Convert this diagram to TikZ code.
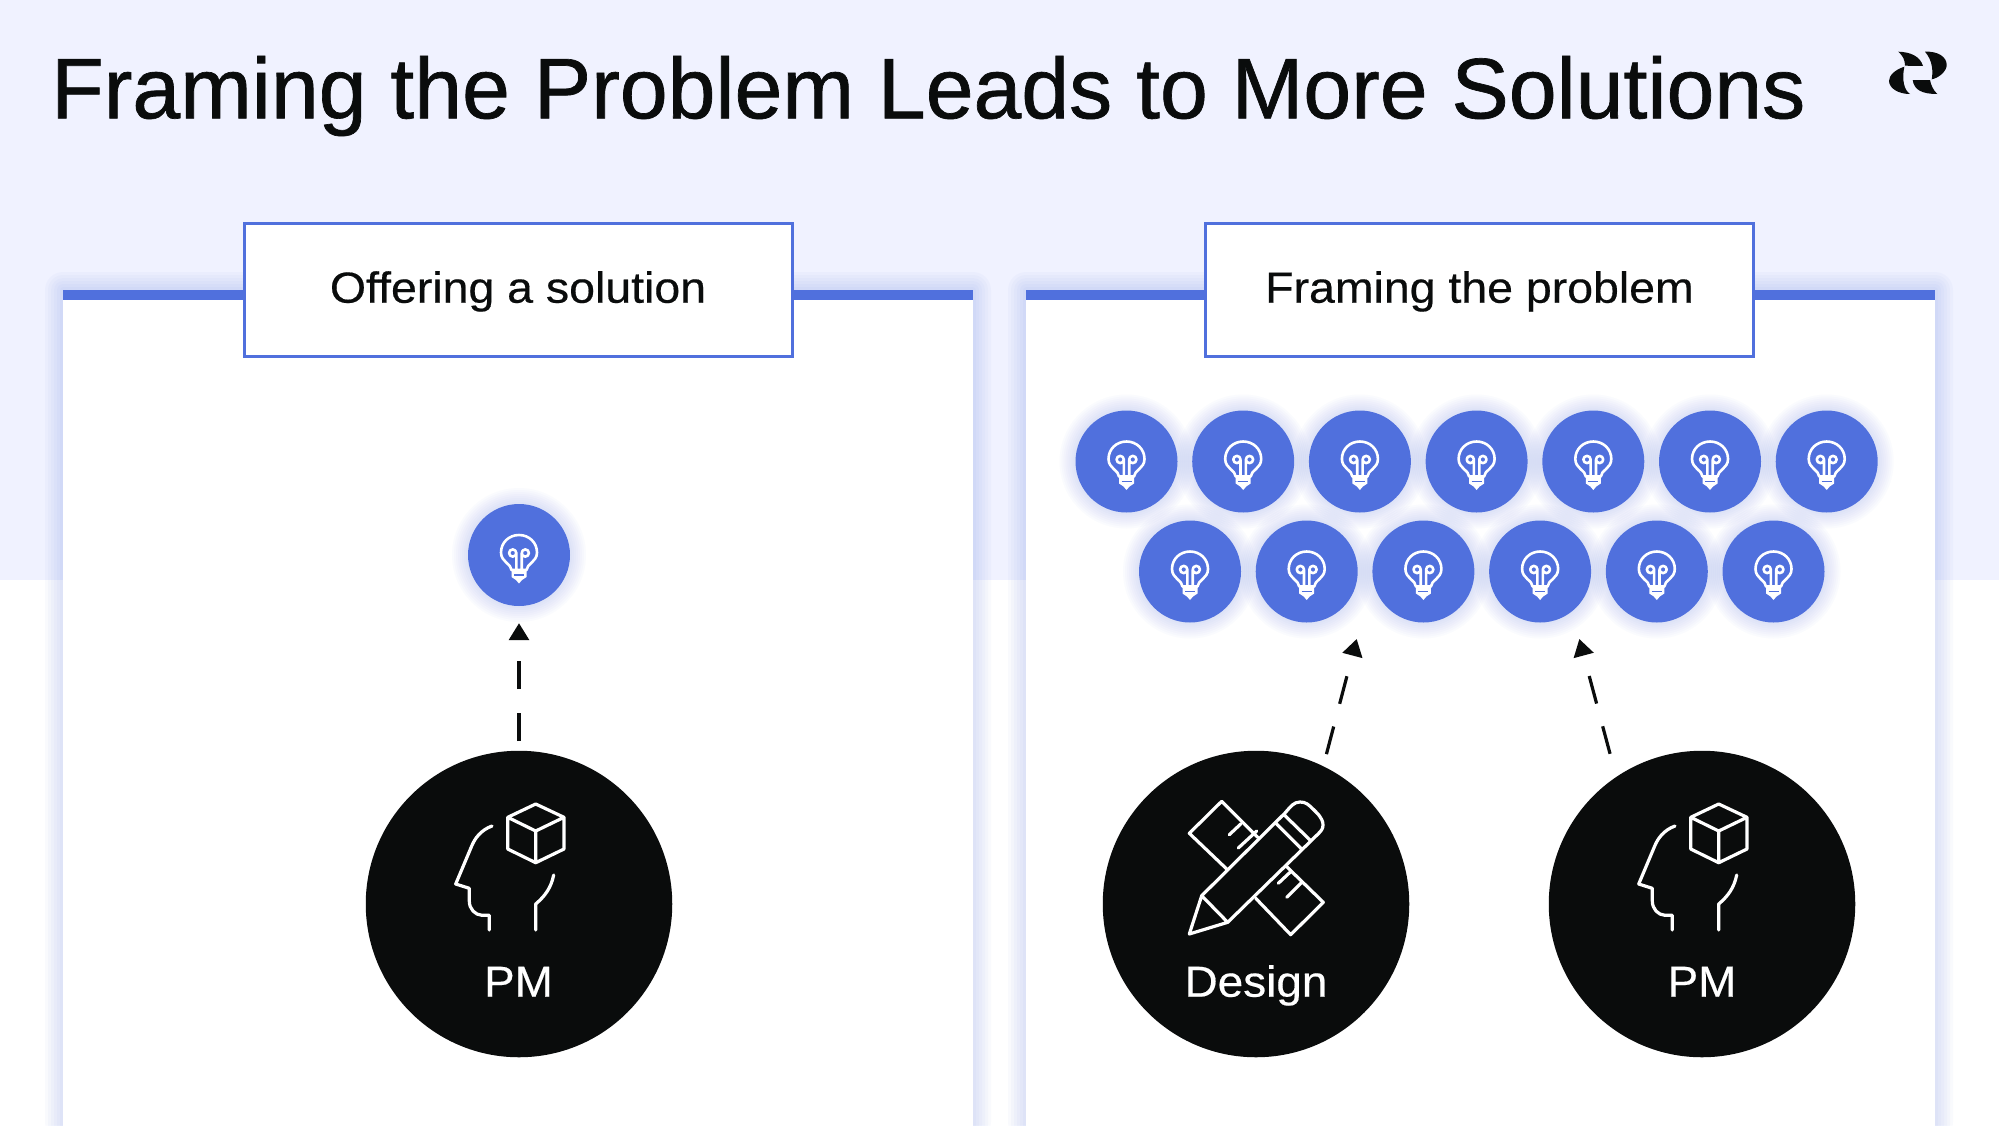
\documentclass[tikz,border=0pt]{standalone}
\usepackage{fontspec}
\setmainfont{Liberation Sans}
\newfontfamily\titlefont[FakeBold=0.8]{Liberation Sans}
\newfontfamily\tabfont[FakeStretch=1.068,FakeBold=0.4]{Liberation Sans}
\newfontfamily\rolefont[FakeStretch=1.055,FakeBold=0.4]{Liberation Sans}
\usetikzlibrary{arrows.meta}
\definecolor{ideablue}{HTML}{5070DD}
\definecolor{pagetint}{HTML}{F0F2FF}
\definecolor{inkblack}{HTML}{0A0C0C}
\newcommand{\glowdisc}[2]{%
  \foreach \g in {2,4,...,16}
  \fill[ideablue, opacity=0.025] (#1) circle ({#2+\g pt});}
\tikzset{
  ideastyle/.style={circle, fill=ideablue, minimum size=102pt, inner sep=0pt},
  rolestyle/.style={circle, fill=inkblack, minimum size=306.5pt, inner sep=0pt},
  rolelabel/.style={white, font=\rolefont\fontsize{43.5}{43.5}\selectfont, anchor=base},
  tabstyle/.style={draw=ideablue, line width=3pt, fill=white, minimum width=548pt, minimum height=133pt,
    font=\tabfont\fontsize{43.5}{43.5}\selectfont, text=inkblack, text height=30pt, text depth=3.6pt},
  dasharrow/.style={inkblack, line width=3.2pt, dash pattern=on 28.5pt off 23.5pt,
    -{Triangle[length=17pt,width=20pt]}},
  iconline/.style={white, line width=3.2pt, line join=round, line cap=round},
  bulbicon/.pic={
    \draw[white, line width=2.6pt, line join=round]
      (-7.5,15) .. controls (-7.5,9) and (-18,7) .. (-18,-2.5) .. controls (-18,-12.5) and (-10,-20) .. (0,-20)
      .. controls (10,-20) and (18,-12.5) .. (18,-2.5) .. controls (18,7) and (7.5,9) .. (7.5,15) -- cycle
      (-2.7,15) -- (-2.7,-2) (2.7,15) -- (2.7,-2)
      (-6.3,-2) circle (3.6pt) (6.3,-2) circle (3.6pt);
    \fill[white] (-7.5,15) -- (7.5,15) -- (7.5,22) -- (3,25) -- (0,28.5) -- (-3,25) -- (-7.5,22) -- cycle;
    \draw[ideablue, line width=1.6pt] (-5,20) -- (5,20);
  },
  pmicon/.pic={
    \draw[iconline] (16.7,-100) -- (45,-86.7) -- (45,-55) -- (16.7,-41.3) -- (-11.3,-55) -- (-11.3,-86.7) -- cycle
      (-11.3,-86.7) -- (16.7,-73) -- (45,-86.7) (16.7,-73) -- (16.7,-41.3);
    \draw[iconline] (-27,-78) .. controls (-38,-74) and (-44,-66) .. (-47.3,-58) -- (-63.3,-20) -- (-49.7,-15.7)
      -- (-49.7,-3) .. controls (-49.7,5) and (-44,11) .. (-37,11.3) -- (-29.7,11.3) -- (-29.7,26);
    \draw[iconline] (34.7,-29) .. controls (32,-16) and (26,-8) .. (16.7,0) -- (16.7,26);
  },
  designicon/.pic={
    \draw[iconline] (-29.3,-35) -- (-66.7,-70.7) -- (-34.3,-102.7) -- (1.7,-66.7)
      (-26.7,-69.3) -- (-15.3,-80) (-17.7,-56) -- (0.7,-73)
      (30.7,-37.3) -- (67.3,-1.7) -- (34.7,30.7) -- (-0.3,-5.7)
      (22.3,-20.7) -- (34,-31.7) (30.7,-6.7) -- (44.7,-20.7);
    \draw[iconline] (-66.7,30) -- (-54.3,-8.3) -- (29,-91) .. controls (35,-98) and (38,-102) .. (44,-102)
      .. controls (50,-102) and (52,-100) .. (60,-92) .. controls (66,-86) and (67,-82) .. (67,-79)
      .. controls (67,-75) and (65,-73) .. (62,-70) -- (-28.3,18.3) -- cycle
      (-54.3,-8.3) -- (-28.3,18.3) (20.7,-80) -- (45.7,-55) (29,-88.3) -- (54,-64);
  },
}
\begin{document}
\begin{tikzpicture}[x=1pt, y=-1pt]
  \useasboundingbox (0,0) rectangle (1999,1125);
  \fill[white] (0,0) rectangle (1999,1125);
  \fill[pagetint] (0,0) rectangle (1999,580);

  \node[anchor=base west, inner sep=0pt, text=inkblack, font=\titlefont\fontsize{86}{86}\selectfont] (title) at (51,118.3)
    {Framing the Problem Leads to More Solutions};

  % logo
  \begin{scope}[shift={(1860,30)}]
    \fill[inkblack] (38.3,21.7) .. controls (50,22) and (60,26) .. (63,36) -- (45,35.7) .. controls (45,30) and (43,26) .. (38.3,21.7);
    \fill[inkblack] (65,21.7) .. controls (78,21) and (86.7,27) .. (86.7,35) .. controls (86.7,41) and (79,48) .. (71.7,49.3) .. controls (73,42) and (73,31) .. (65,21.7);
    \fill[inkblack] (44.3,36.7) .. controls (34,40) and (29,46) .. (29,51) .. controls (29,58) and (38,64) .. (50,64) .. controls (44,60) and (41.7,50) .. (44.3,36.7);
    \fill[inkblack] (52.7,50) -- (70,50) .. controls (71,55) and (73,60) .. (77.3,64) .. controls (62,64) and (54,60) .. (52.7,50);
  \end{scope}

  % panels
  \foreach \x/\w in {63/973, 1026/1935} {
    \foreach \g in {3,6,...,18}
    \fill[ideablue, opacity=0.03, rounded corners=\g pt] (\x-\g,290-\g) rectangle (\w+\g,1140);
    \fill[white] (\x,290) rectangle (\w,1140);
    \fill[ideablue] (\x,290) rectangle (\w,300);
  }
  \node[tabstyle] (tableft) at (518,289.5) {Offering a solution};
  \node[tabstyle] (tabright) at (1479.5,289.5) {Framing the problem};

  % left side
  \glowdisc{519,555}{51pt}
  \node[ideastyle] (single) at (519,555) {};
  \pic at (single) {bulbicon};
  \node[rolestyle] (pmleft) at (519,904) {};
  \pic at (pmleft) {pmicon};
  \node[rolelabel] (pmlefttext) at (518.5,996.7) {PM};
  \draw[dasharrow, shorten <=9.5pt, shorten >=17pt] (pmleft.north) -- (single.south);

  % right side
  \foreach \x in {0,...,6} {
    \glowdisc{1126.5+\x*116.7,461.5}{51pt}
  }
  \foreach \x in {0,...,5} {
    \glowdisc{1190+\x*116.7,571.5}{51pt}
  }
  \foreach \x in {0,...,6} {
    \node[ideastyle] (top\x) at (1126.5+\x*116.7,461.5) {};
    \pic at (top\x) {bulbicon};
  }
  \foreach \x in {0,...,5} {
    \node[ideastyle] (low\x) at (1190+\x*116.7,571.5) {};
    \pic at (low\x) {bulbicon};
  }
  \node[rolestyle] (design) at (1256,904) {};
  \pic at (design) {designicon};
  \node[rolelabel] (designtext) at (1256,996.7) {Design};
  \node[rolestyle] (pmright) at (1702,904) {};
  \pic at (pmright) {pmicon};
  \node[rolelabel] (pmrighttext) at (1702,996.7) {PM};
  \coordinate (ideaA) at (1356.7,639);
  \coordinate (ideaB) at (1579.3,639);
  \draw[dasharrow, shorten <=12.4pt] (design.64) -- (ideaA);
  \draw[dasharrow, shorten <=23.8pt] (pmright.124) -- (ideaB);
\end{tikzpicture}
\end{document}
